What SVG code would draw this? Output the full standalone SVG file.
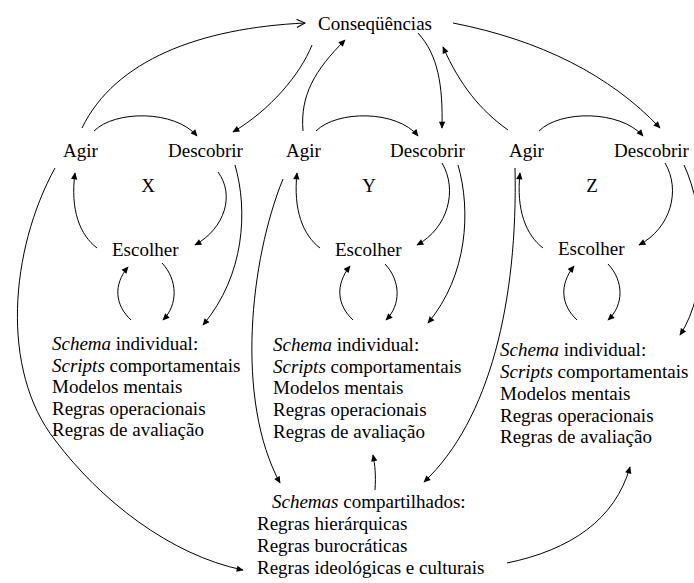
<svg xmlns="http://www.w3.org/2000/svg" width="694" height="583" viewBox="0 0 694 583">
  <style>
    text { font-family: "Liberation Serif", "Times New Roman", serif; font-size: 19px; fill: #000; }
    .it { font-style: italic; }
    .c { text-anchor: middle; }
    #connectors path { fill: none; stroke: #000; stroke-width: 1; }
  </style>
  <defs>
    <marker id="ah" viewBox="0 0 10 10" refX="9" refY="5" markerWidth="9" markerHeight="7" markerUnits="userSpaceOnUse" orient="auto">
      <path d="M0,0.5 L10,5 L0,9.5 z" fill="#000"/>
    </marker>
    <marker id="open" viewBox="0 0 12 12" refX="11" refY="6" markerWidth="11" markerHeight="10" markerUnits="userSpaceOnUse" orient="auto">
      <path d="M1,1 L11,6 L1,11" fill="none" stroke="#000" stroke-width="1.2"/>
    </marker>
  </defs>
  <rect width="694" height="583" fill="#fff"/>

  <!-- nodes -->
  <g id="consequencias"><text x="318" y="30">Conseqüências</text></g>

  <g id="agir-x"><text x="63" y="157">Agir</text></g>
  <g id="descobrir-x"><text x="168" y="157">Descobrir</text></g>
  <g id="label-x"><text x="148" y="192" class="c">X</text></g>
  <g id="escolher-x"><text x="112" y="256">Escolher</text></g>
  <g id="schema-x">
    <text x="52" y="350"><tspan class="it">Schema</tspan> individual:</text>
    <text x="52" y="372"><tspan class="it">Scripts</tspan> comportamentais</text>
    <text x="52" y="393">Modelos mentais</text>
    <text x="52" y="415">Regras operacionais</text>
    <text x="52" y="436">Regras de avaliação</text>
  </g>

  <g id="agir-y"><text x="286" y="157">Agir</text></g>
  <g id="descobrir-y"><text x="390" y="157">Descobrir</text></g>
  <g id="label-y"><text x="369" y="192" class="c">Y</text></g>
  <g id="escolher-y"><text x="335" y="256">Escolher</text></g>
  <g id="schema-y">
    <text x="273" y="351"><tspan class="it">Schema</tspan> individual:</text>
    <text x="273" y="373"><tspan class="it">Scripts</tspan> comportamentais</text>
    <text x="273" y="394">Modelos mentais</text>
    <text x="273" y="416">Regras operacionais</text>
    <text x="273" y="438">Regras de avaliação</text>
  </g>

  <g id="agir-z"><text x="509" y="157">Agir</text></g>
  <g id="descobrir-z"><text x="614" y="157">Descobrir</text></g>
  <g id="label-z"><text x="592" y="192" class="c">Z</text></g>
  <g id="escolher-z"><text x="558" y="255">Escolher</text></g>
  <g id="schema-z">
    <text x="500" y="356"><tspan class="it">Schema</tspan> individual:</text>
    <text x="500" y="378"><tspan class="it">Scripts</tspan> comportamentais</text>
    <text x="500" y="400">Modelos mentais</text>
    <text x="500" y="422">Regras operacionais</text>
    <text x="500" y="443">Regras de avaliação</text>
  </g>

  <g id="schemas-compartilhados">
    <text x="272" y="508"><tspan class="it">Schemas</tspan> compartilhados:</text>
    <text x="257" y="530">Regras hierárquicas</text>
    <text x="257" y="552">Regras burocráticas</text>
    <text x="257" y="574">Regras ideológicas e culturais</text>
  </g>

  <!-- connectors -->
  <g id="connectors">
    <!-- links with Conseqüências -->
    <path d="M82,128 C115,60 200,28 305,23" marker-end="url(#open)"/>
    <path d="M312,45 C300,75 270,110 233,132" marker-end="url(#ah)"/>
    <path d="M303,131 C300,95 315,70 345,40" marker-end="url(#ah)"/>
    <path d="M418,33 C438,55 443,85 442,128" marker-end="url(#ah)"/>
    <path d="M508,130 C480,110 460,85 443,47" marker-end="url(#ah)"/>
    <path d="M453,23 C540,40 610,75 660,128" marker-end="url(#ah)"/>

    <!-- cycle X -->
    <path d="M94,131 C115,110 175,110 197,136" marker-end="url(#ah)"/>
    <path d="M218,172 C235,195 225,228 195,245" marker-end="url(#ah)"/>
    <path d="M97,248 C80,235 70,210 75,173" marker-end="url(#ah)"/>
    <path d="M162,263 C178,280 178,305 163,320" marker-end="url(#ah)"/>
    <path d="M131,320 C115,305 113,285 128,267" marker-end="url(#ah)"/>
    <path d="M235,165 C248,210 245,275 203,325" marker-end="url(#ah)"/>

    <!-- cycle Y -->
    <path d="M316,131 C337,110 397,110 418,136" marker-end="url(#ah)"/>
    <path d="M442,163 C458,190 448,228 417,245" marker-end="url(#ah)"/>
    <path d="M320,248 C303,235 293,210 297,173" marker-end="url(#ah)"/>
    <path d="M385,264 C401,281 401,305 386,320" marker-end="url(#ah)"/>
    <path d="M353,320 C337,305 335,285 350,266" marker-end="url(#ah)"/>
    <path d="M458,165 C471,210 468,275 428,323" marker-end="url(#ah)"/>

    <!-- cycle Z -->
    <path d="M539,131 C560,110 620,110 643,136" marker-end="url(#ah)"/>
    <path d="M665,163 C681,190 671,228 639,245" marker-end="url(#ah)"/>
    <path d="M543,248 C526,235 516,210 520,173" marker-end="url(#ah)"/>
    <path d="M608,264 C624,281 624,305 608,320" marker-end="url(#ah)"/>
    <path d="M577,320 C561,305 559,285 574,266" marker-end="url(#ah)"/>
    <path d="M684,165 C705,210 710,290 680,335" marker-end="url(#ah)"/>

    <!-- links with the shared schemas -->
    <path d="M55,168 C10,250 0,370 55,440 C100,500 170,555 243,570" marker-end="url(#ah)"/>
    <path d="M283,179 C250,260 235,400 280,483" marker-end="url(#ah)"/>
    <path d="M515,168 C518,300 490,420 424,482" marker-end="url(#ah)"/>
    <path d="M375,490 C376,475 375,465 373,455" marker-end="url(#ah)"/>
    <path d="M507,563 C570,550 615,520 630,467" marker-end="url(#ah)"/>
  </g>
</svg>
